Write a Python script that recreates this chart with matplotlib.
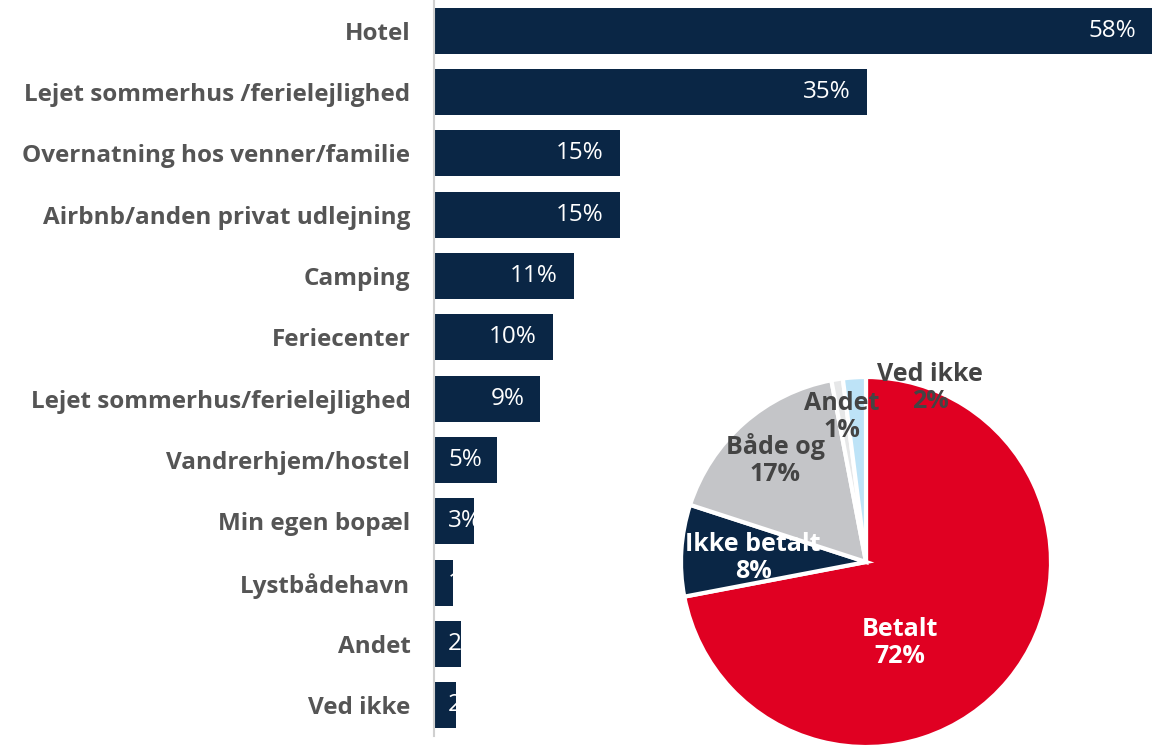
import matplotlib.pyplot as plt

plt.rcParams['font.family'] = ['Open Sans', 'DejaVu Sans']

# bar chart data
categories = ['Hotel', 'Lejet sommerhus /ferielejlighed', 'Overnatning hos venner/familie',
              'Airbnb/anden privat udlejning', 'Camping', 'Feriecenter',
              'Lejet sommerhus/ferielejlighed', 'Vandrerhjem/hostel', 'Min egen bopæl',
              'Lystbådehavn', 'Andet', 'Ved ikke']
values = [58, 35, 15, 15, 11.3, 9.6, 8.6, 5.1, 3.2, 1.5, 2.2, 1.8]
value_labels = ['58%', '35%', '15%', '15%', '11%', '10%', '9%', '5%', '3%', '1%', '2%', '2%']

# pie data
pie_labels = ['Betalt', 'Ikke betalt', 'Både og', 'Andet', 'Ved ikke']
pie_values = [72, 8, 17, 1, 2]
pie_colors = ['#E00022', '#0A2645', '#C4C5C8', '#E6E7E8', '#BDE3F7']
pie_text_colors = ['white', 'white', '#444444', '#444444', '#444444']

navy = '#0A2645'
W, H = 1157, 745
fig = plt.figure(figsize=(W / 100, H / 100), dpi=100)

ax = fig.add_axes([434 / W, 9 / H, 723 / W, 736 / H])
y = range(len(categories))
ax.barh(y, values, height=0.75, color=navy)
ax.set_ylim(len(categories) - 0.5, -0.5)
ax.set_xlim(0, 58 * 723 / 718)
ax.set_yticks(list(y))
ax.set_yticklabels(categories, fontsize=17.5, fontweight='bold', color='#555555')
ax.tick_params(axis='y', length=0, pad=17)
ax.set_xticks([])
for s in ['top', 'right', 'bottom']:
    ax.spines[s].set_visible(False)
ax.spines['left'].set_color('#D0D0D0')
ax.spines['left'].set_linewidth(1.5)

for i, (v, lab) in enumerate(zip(values, value_labels)):
    if v < 6:
        ax.text(1.15, i, lab, ha='left', va='center', color='white', fontsize=17.5, clip_on=False)
    else:
        ax.text(v - 1.3, i, lab, ha='right', va='center', color='white', fontsize=17.5)

# pie chart
cx, cy, r = 866, 562, 185
pax = fig.add_axes([(cx - r) / W, (H - cy - r) / H, 2 * r / W, 2 * r / H])
pax.pie(pie_values, colors=pie_colors, startangle=90, counterclock=False,
        wedgeprops=dict(edgecolor='white', linewidth=3))
pax.set_xlim(-1, 1)
pax.set_ylim(-1, 1)
pax.set_aspect('equal')

label_pos = [(900, 643), (753, 558), (775, 460), (842, 417), (930, 388)]
for lab, v, (px, py), c in zip(pie_labels, pie_values, label_pos, pie_text_colors):
    pax.text((px - cx) / r, (cy - py) / r, f'{lab}\n{v}%', ha='center', va='center',
             color=c, fontsize=18, fontweight='bold', linespacing=1.15, clip_on=False)

fig.savefig('out.png', dpi=100)
